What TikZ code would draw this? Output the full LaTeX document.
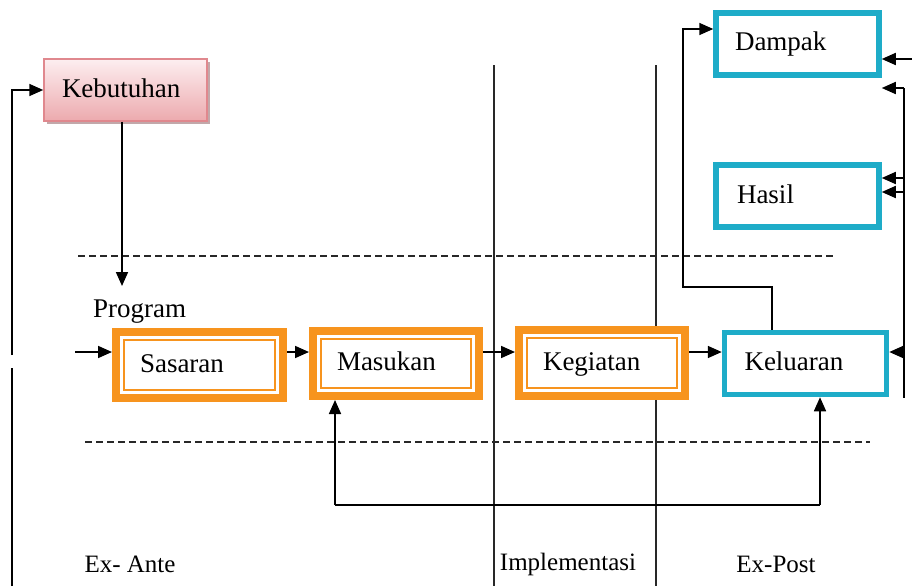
\documentclass[tikz,border=0pt]{standalone}
\usepackage{fontspec}
\setmainfont{Liberation Serif}
\usetikzlibrary{arrows.meta,shadows}
\definecolor{orng}{RGB}{247,148,30}
\definecolor{cyn}{RGB}{30,172,200}
\definecolor{pinkb}{RGB}{224,136,142}
\definecolor{pinkt}{RGB}{253,238,240}
\definecolor{pinkd}{RGB}{236,170,174}
\definecolor{linegray}{RGB}{40,40,40}
\begin{document}
\begin{tikzpicture}[x=1pt,y=-1pt,
  font=\fontsize{27}{30}\selectfont,
  arr/.style={draw=black,line width=1.7pt,-{Triangle[length=14pt,width=12pt]}},
  plain/.style={draw=black,line width=1.7pt},
  divider/.style={draw=linegray,line width=1.3pt},
  dashline/.style={draw=linegray,line width=1.5pt,dash pattern=on 7pt off 4pt},
  boxtext/.style={align=left,inner ysep=0pt,text height=19pt,text depth=5pt},
  obox/.style={boxtext,draw=orng,line width=8pt,fill=white,
    path picture={\draw[orng,line width=1.5pt]
      ([shift={(8pt,-8pt)}]path picture bounding box.north west) rectangle
      ([shift={(-8pt,8pt)}]path picture bounding box.south east);}},
  cbox/.style={boxtext,draw=cyn,line width=5.5pt,fill=white},
  pbox/.style={boxtext,draw=pinkb,line width=1.5pt,top color=pinkt,bottom color=pinkd,
    drop shadow={shadow xshift=3pt,shadow yshift=-3pt,fill=black!35!pinkd,opacity=0.6}},
  lbl/.style={font=\fontsize{25}{30}\selectfont,inner sep=0pt}
]
\useasboundingbox (0,0) rectangle (912,586);

% dividers
\draw[divider] (494,65) -- (494,586);
\draw[divider] (656,65) -- (656,586);
\draw[dashline] (78,256) -- (835,256);
\draw[dashline] (85,442) -- (870,442);

% boxes
\node[pbox,inner xsep=18pt,text width=127pt,minimum height=62pt] (keb) at (125.5,90) {Kebutuhan};
\node[obox,inner xsep=24pt,text width=119pt,minimum height=66pt] (sas) at (199.5,365) {Sasaran};
\node[obox,inner xsep=24pt,text width=118pt,minimum height=65pt] (mas) at (396,363.5) {Masukan};
\node[obox,inner xsep=24pt,text width=118pt,minimum height=66pt] (keg) at (602,363) {Kegiatan};
\node[cbox,inner xsep=20pt,text width=122pt,minimum height=62pt] (kel) at (805.5,363.5) {Keluaran};
\node[cbox,inner xsep=19pt,text width=125pt,minimum height=62pt] (dam) at (797.5,44) {Dampak};
\node[cbox,inner xsep=21pt,text width=121pt,minimum height=62pt] (has) at (797.5,196) {Hasil};

\node[inner sep=0pt,anchor=west] (prog) at (93,312) {Program};

% bottom labels
\node[lbl] (exa) at (130,564) {Ex- Ante};
\node[lbl] (imp) at (568,564) {Implementasi};
\node[lbl] (exp) at (776,564) {Ex-Post};

% left frame line and arrow into Kebutuhan
\coordinate (lb) at (12,586);
\coordinate (lg) at (12,368);
\coordinate (lt) at (12,355);
\draw[plain] (lb) -- (lg);
\draw[arr] (lt) |- (keb.west);

% Kebutuhan down to program
\coordinate (kd) at (122,286);
\draw[arr] (keb.south -| kd) -- (kd);

% main chain
\coordinate (in) at (75,352);
\coordinate (ch) at (0,352);
\draw[arr] (in) -- (sas.west |- ch);
\draw[arr] (sas.east |- ch) -- (mas.west |- ch);
\draw[arr] (mas.east |- ch) -- (keg.west |- ch);
\draw[arr] (keg.east |- ch) -- (kel.west |- ch);

% feedback loop
\coordinate (fbL) at (335,505);
\coordinate (fbR) at (820,505);
\draw[plain] (fbL) -- (fbR);
\draw[arr] (fbL) -- (fbL |- mas.south);
\draw[arr] (fbR) -- (fbR |- kel.south);

% Keluaran to Dampak
\coordinate (k1) at (772,287);
\coordinate (k2) at (683,29);
\draw[arr] (kel.north -| k1) -- (k1) -| (k2) -- (dam.west |- k2);

% right side
\coordinate (r0) at (912,59);
\draw[arr] (r0) -- (dam.east |- r0);
\coordinate (rt) at (904,88);
\coordinate (rb) at (904,398);
\coordinate (rh1) at (904,178);
\coordinate (rh2) at (904,192);
\coordinate (rk) at (904,352);
\draw[plain] (rt) -- (rb);
\draw[arr] (rt) -- (dam.east |- rt);
\draw[arr] (rh1) -- (has.east |- rh1);
\draw[arr] (rh2) -- (has.east |- rh2);
\draw[arr] (rk) -- (kel.east |- rk);
\end{tikzpicture}
\end{document}
